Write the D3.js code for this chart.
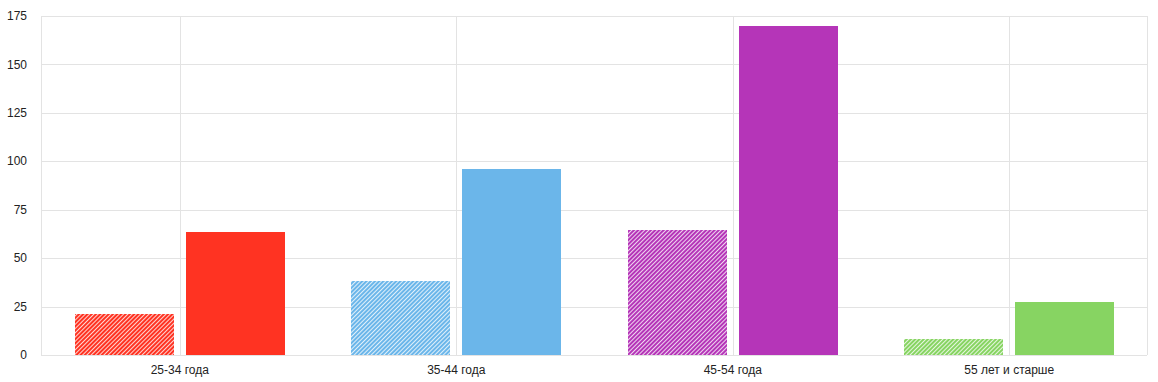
<!DOCTYPE html>
<html>
<head>
<meta charset="utf-8">
<script src="https://cdn.jsdelivr.net/npm/d3@7"></script>
<style>
  body { margin: 0; background: #fff; }
  text { font-family: "Liberation Sans", Arial, sans-serif; }
</style>
</head>
<body>
<div id="chart"></div>
<script>
const width = 1158,
      height = 382;

const margin = { top: 16, right: 11, bottom: 27, left: 41 };

// data
const categories = ["25-34 года", "35-44 года", "45-54 года", "55 лет и старше"];
const colors = ["#ff3322", "#6bb6ea", "#b535b8", "#87d462"];
const seriesKeys = ["prev", "curr"];
const prevValues = [21, 38, 64.5, 8.3];   // hatched bars
const currValues = [63.5, 96, 170, 27.3]; // solid bars
const yTicks = [0, 25, 50, 75, 100, 125, 150, 175];

const rows = categories.map((c, i) => ({
  cat: c, color: colors[i], prev: prevValues[i], curr: currValues[i]
}));

const x = d3.scaleBand()
    .domain(categories)
    .range([margin.left + 0.5, width - margin.right + 0.5]);

const x1 = d3.scaleBand()
    .domain(seriesKeys)
    .range([0, x.bandwidth()])
    .paddingInner(0.108)
    .paddingOuter(0.3);

const y = d3.scaleLinear()
    .domain([0, 175])
    .range([height - margin.bottom, margin.top]);

const svg = d3.select("#chart")
  .append("svg")
    .attr("width", width)
    .attr("height", height);

// hatch patterns, one per colour
const defs = svg.append("defs");
colors.forEach((c, i) => {
  const p = defs.append("pattern")
      .attr("id", "hatch" + i)
      .attr("patternUnits", "userSpaceOnUse")
      .attr("width", 3)
      .attr("height", 3)
      .attr("patternTransform", "rotate(45)");
  p.append("rect")
      .attr("width", 3)
      .attr("height", 3)
      .attr("fill", c);
  p.append("line")
      .attr("x1", 0).attr("y1", 0)
      .attr("x2", 0).attr("y2", 3)
      .attr("stroke", "#fff")
      .attr("stroke-width", 1.6);
});

// grid
const grid = svg.append("g").attr("stroke", "#e3e3e3").attr("stroke-width", 1);

grid.selectAll(".h")
  .data(yTicks)
  .enter()
  .append("line")
    .attr("x1", margin.left)
    .attr("x2", width - margin.right)
    .attr("y1", d => Math.round(y(d)) + 0.5)
    .attr("y2", d => Math.round(y(d)) + 0.5);

const vLines = [margin.left, width - margin.right]
  .concat(categories.map(c => x(c) + x.bandwidth() / 2));

grid.selectAll(".v")
  .data(vLines)
  .enter()
  .append("line")
    .attr("x1", d => Math.round(d) + 0.5)
    .attr("x2", d => Math.round(d) + 0.5)
    .attr("y1", margin.top)
    .attr("y2", height - margin.bottom);

// bars
svg.append("g")
  .selectAll("g")
  .data(rows)
  .enter()
  .append("g")
  .selectAll("rect")
  .data((d, i) => seriesKeys.map(k => ({ cat: d.cat, key: k, value: d[k], i: i, color: d.color })))
  .enter()
  .append("rect")
    .attr("x", d => Math.round(x(d.cat) + x1(d.key)))
    .attr("width", Math.round(x1.bandwidth()))
    .attr("y", d => Math.round(y(d.value)))
    .attr("height", d => Math.round(y(0)) - Math.round(y(d.value)))
    .attr("fill", d => d.key === "prev" ? `url(#hatch${d.i})` : d.color);

// y labels
svg.append("g")
  .selectAll("text")
  .data(yTicks)
  .enter()
  .append("text")
    .attr("x", 27)
    .attr("y", d => y(d))
    .attr("dy", "0.35em")
    .attr("text-anchor", "end")
    .attr("font-size", 12)
    .attr("fill", "#222")
    .text(d => d);

// x labels
svg.append("g")
  .selectAll("text")
  .data(categories)
  .enter()
  .append("text")
    .attr("x", d => x(d) + x.bandwidth() / 2)
    .attr("y", 374)
    .attr("text-anchor", "middle")
    .attr("font-size", 12)
    .attr("fill", "#222")
    .text(d => d);
</script>
</body>
</html>
